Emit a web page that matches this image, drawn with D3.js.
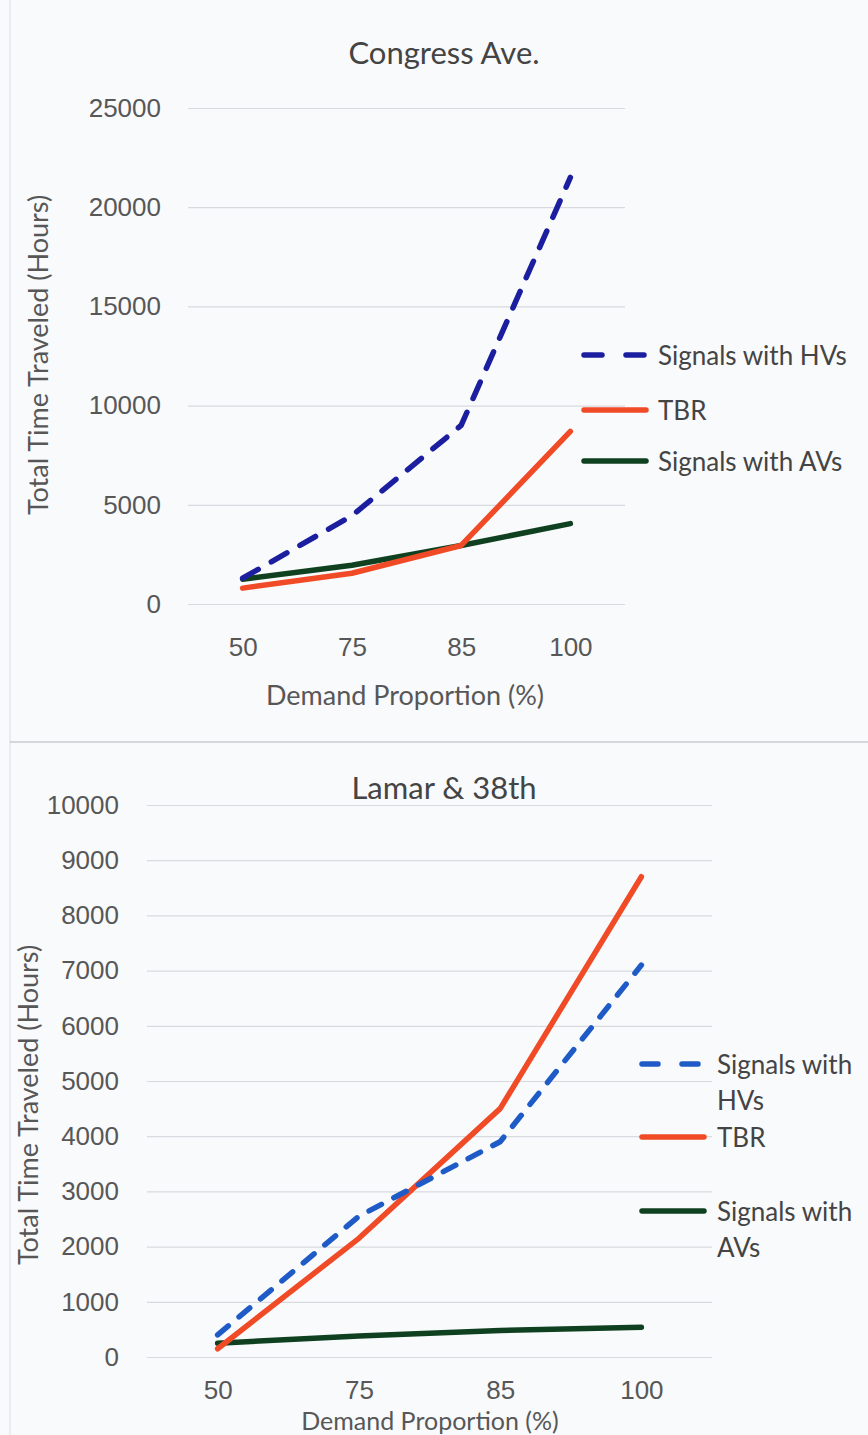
<!DOCTYPE html>
<html>
<head>
<meta charset="utf-8">
<script src="https://cdn.jsdelivr.net/npm/d3@7"></script>
<style>
  body { margin: 0; background: #f9fafc; }
  svg { display: block; font-family: Lato, "Open Sans", sans-serif; }
</style>
</head>
<body>
<svg width="868" height="1435"></svg>
<script>
// shared categories
const demand = ["50", "75", "85", "100"];

// Congress Ave. (hours)
const congressHV = [1300, 4450, 9000, 21500];
const congressTBR = [800, 1550, 2950, 8700];
const congressAV = [1250, 1950, 2950, 4050];
const congressTicks = [0, 5000, 10000, 15000, 20000, 25000];

// Lamar & 38th (hours)
const lamarHV = [400, 2550, 3900, 7100];
const lamarTBR = [150, 2150, 4500, 8700];
const lamarAV = [250, 380, 480, 540];
const lamarTicks = [0, 1000, 2000, 3000, 4000, 5000, 6000, 7000, 8000, 9000, 10000];

const seriesNames = ["Signals with HVs", "TBR", "Signals with AVs"];

const svg = d3.select("svg");

// frame lines from the scanned page
svg.append("line").attr("x1", 10).attr("x2", 10).attr("y1", 0).attr("y2", 1435)
    .attr("stroke", "#dcdde2").attr("stroke-width", 1);
svg.append("line").attr("x1", 10).attr("x2", 868).attr("y1", 742).attr("y2", 742)
    .attr("stroke", "#c9cacf").attr("stroke-width", 1.5);

function drawChart(cfg) {
    const g = svg.append("g");

    const x = d3.scalePoint().domain(demand).range([cfg.left, cfg.right]).padding(0.5);
    const y = d3.scaleLinear().domain([0, cfg.max]).range([cfg.bottom, cfg.top]);

    // gridlines + y labels
    const yAxis = g.append("g")
        .attr("transform", `translate(${cfg.left},0)`)
        .call(d3.axisLeft(y).tickValues(cfg.ticks).tickSize(-(cfg.right - cfg.left))
            .tickPadding(cfg.labelPad).tickFormat(d3.format("d")));
    yAxis.select(".domain").remove();
    yAxis.selectAll("line").attr("stroke", "#d9dadf").attr("stroke-width", 1.2);
    yAxis.selectAll("text").attr("fill", "#575757").style("font-size", cfg.tickFont + "px");

    // x labels
    const xAxis = g.append("g")
        .attr("transform", `translate(0,${cfg.bottom})`)
        .call(d3.axisBottom(x).tickSize(0).tickPadding(cfg.xPad));
    xAxis.select(".domain").remove();
    xAxis.selectAll("text").attr("fill", "#575757").style("font-size", cfg.tickFont + "px");

    const line = d3.line().x((d, i) => x(demand[i])).y(d => y(d));

    const series = [
        { name: seriesNames[0], values: cfg.hv, color: cfg.hvColor, dash: cfg.dash, legendDash: cfg.legendDash },
        { name: seriesNames[1], values: cfg.tbr, color: "#f04b26", dash: null, legendDash: null },
        { name: seriesNames[2], values: cfg.av, color: "#0f4120", dash: null, legendDash: null }
    ];

    // draw AVs first, then TBR, then HVs on top
    [series[2], series[1], series[0]].forEach(s => {
        g.append("path")
            .datum(s.values)
            .attr("d", line)
            .attr("fill", "none")
            .attr("stroke", s.color)
            .attr("stroke-width", 5.5)
            .attr("stroke-linecap", "round")
            .attr("stroke-linejoin", "round")
            .attr("stroke-dasharray", s.dash);
    });

    // title
    g.append("text")
        .attr("x", cfg.titleX).attr("y", cfg.titleY)
        .attr("text-anchor", "middle").attr("dominant-baseline", "central")
        .attr("fill", "#444").style("font-size", cfg.titleFont + "px")
        .text(cfg.title);

    // axis titles
    g.append("text")
        .attr("transform", `translate(${cfg.yTitleX},${cfg.yTitleY}) rotate(-90)`)
        .attr("text-anchor", "middle").attr("dominant-baseline", "central")
        .attr("fill", "#575757").style("font-size", cfg.axisFont + "px")
        .text("Total Time Traveled (Hours)");
    g.append("text")
        .attr("x", cfg.xTitleX).attr("y", cfg.xTitleY)
        .attr("text-anchor", "middle")
        .attr("fill", "#575757").style("font-size", cfg.xTitleFont + "px")
        .text("Demand Proportion (%)");

    // legend
    series.forEach((s, i) => {
        const ly = cfg.legendY[i];
        g.append("line")
            .attr("x1", cfg.legendX).attr("x2", cfg.legendX + cfg.legendLen)
            .attr("y1", ly).attr("y2", ly)
            .attr("stroke", s.color).attr("stroke-width", 5.5)
            .attr("stroke-linecap", "round")
            .attr("stroke-dasharray", s.legendDash);
        const t = g.append("text")
            .attr("x", cfg.textX).attr("y", ly)
            .attr("dominant-baseline", "central")
            .attr("fill", "#444").style("font-size", cfg.legendFont + "px");
        const lines = cfg.legendWrap ? cfg.legendWrap[i] : [s.name];
        lines.forEach((txt, k) => {
            t.append("tspan")
                .attr("x", cfg.textX)
                .attr("dy", k === 0 ? 0 : cfg.legendLineH)
                .text(txt);
        });
    });
}

drawChart({
    title: "Congress Ave.", titleX: 444, titleY: 52, titleFont: 31,
    left: 188, right: 625, top: 108, bottom: 604, max: 25000, ticks: congressTicks,
    labelPad: 27, xPad: 34, tickFont: 26, axisFont: 27, xTitleFont: 27,
    yTitleX: 37, yTitleY: 355, xTitleX: 405, xTitleY: 705,
    hv: congressHV, tbr: congressTBR, av: congressAV,
    hvColor: "#1c1ea0", dash: "18,15", legendDash: "18,24",
    legendX: 584, legendLen: 62, textX: 658, legendY: [355, 410, 461], legendFont: 26,
    legendWrap: null, legendLineH: 0
});

drawChart({
    title: "Lamar & 38th", titleX: 444, titleY: 787, titleFont: 31,
    left: 147, right: 712, top: 805, bottom: 1357, max: 10000, ticks: lamarTicks,
    labelPad: 28, xPad: 24, tickFont: 26, axisFont: 27, xTitleFont: 25,
    yTitleX: 27, yTitleY: 1105, xTitleX: 430, xTitleY: 1430,
    hv: lamarHV, tbr: lamarTBR, av: lamarAV,
    hvColor: "#1f5bc6", dash: "14,14", legendDash: "16,24",
    legendX: 642, legendLen: 62, textX: 717, legendY: [1064, 1137, 1211], legendFont: 26,
    legendWrap: [["Signals with", "HVs"], ["TBR"], ["Signals with", "AVs"]], legendLineH: 36
});
</script>
</body>
</html>
